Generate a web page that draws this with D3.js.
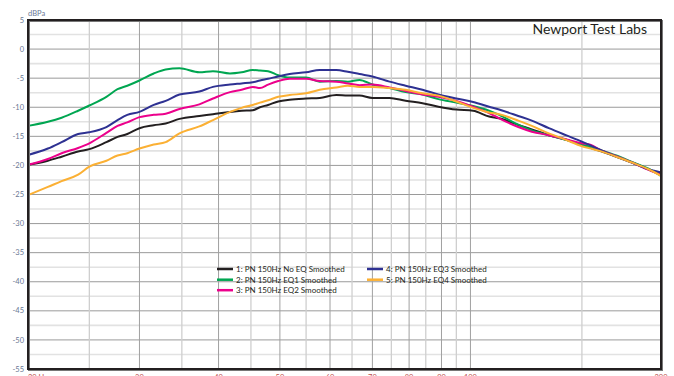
<!DOCTYPE html>
<html>
<head>
<meta charset="utf-8">
<script src="https://cdn.jsdelivr.net/npm/d3@7"></script>
<style>
	body{margin:0;background:#fff;}
	svg text{font-family:Lato, "Noto Sans", sans-serif;}
</style>
</head>
<body>
<svg id="chart" width="674" height="376"></svg>
<script>
width = 674;
height = 376;
margin = {left: 28, top: 20, right: 13, bottom: 7};

// frequencies (Hz) the curves were read at
freqs = [20, 21.5, 22.6, 24, 25, 26.6, 27.7, 28.7, 30, 31.6, 33, 34.7, 37.3, 39.2, 41.7, 43.5, 45.3, 46.5, 47.9, 49.7,
	51.8, 55, 57.8, 61.4, 64, 66.8, 70, 74.5, 79, 84, 89, 95, 101, 107, 111, 119, 125, 133, 141.5, 150,
	155, 160, 170, 180, 191.5, 200];

noEQ = [-19.9, -19.2, -18.5, -17.6, -17.2, -16.0, -15.1, -14.6, -13.6, -13.1, -12.8, -12.0, -11.5, -11.2, -10.8, -10.6, -10.5, -10.0, -9.6, -9.0,
	-8.7, -8.5, -8.4, -7.9, -8.0, -8.0, -8.4, -8.4, -8.9, -9.3, -9.9, -10.4, -10.6, -11.6, -11.9, -13.05, -13.8, -14.8, -15.6, -16.5,
	-17.0, -17.5, -18.5, -19.5, -20.7, -21.6];
eq1 = [-13.2, -12.5, -11.8, -10.6, -9.7, -8.2, -6.9, -6.3, -5.4, -4.2, -3.5, -3.3, -4.0, -3.8, -4.2, -4.0, -3.6, -3.7, -3.8, -4.5,
	-4.9, -4.9, -5.6, -5.5, -5.6, -5.3, -6.1, -6.7, -7.4, -7.8, -8.6, -9.2, -9.8, -10.6, -11.3, -13.0, -14.0, -14.8, -15.6, -16.4,
	-16.8, -17.3, -18.3, -19.4, -20.6, -21.8];
eq2 = [-19.9, -18.9, -17.9, -17.0, -16.2, -14.4, -13.2, -12.6, -11.7, -11.3, -11.1, -10.3, -9.5, -8.5, -7.4, -7.0, -6.5, -6.7, -6.1, -5.5,
	-5.1, -5.1, -5.5, -5.6, -5.9, -6.2, -6.1, -6.6, -7.2, -7.8, -8.2, -8.9, -9.9, -11.0, -11.9, -13.4, -14.2, -14.8, -15.5, -16.2,
	-16.5, -17.3, -18.4, -19.5, -20.8, -21.6];
eq3 = [-18.2, -17.1, -16.0, -14.6, -14.3, -13.4, -12.2, -11.3, -10.8, -9.6, -8.9, -7.8, -7.3, -6.5, -6.1, -5.9, -5.7, -5.4, -5.1, -4.7,
	-4.3, -4.0, -3.6, -3.6, -3.9, -4.3, -4.7, -5.6, -6.3, -7.0, -7.8, -8.5, -9.1, -9.9, -10.4, -11.5, -12.3, -13.6, -14.8, -15.9,
	-16.6, -17.3, -18.5, -19.5, -20.7, -21.2];
eq4 = [-25.1, -23.7, -22.7, -21.6, -20.2, -19.2, -18.3, -17.9, -17.1, -16.4, -16.0, -14.5, -13.3, -12.2, -10.8, -10.1, -9.6, -9.2, -8.8, -8.2,
	-7.9, -7.6, -7.0, -6.6, -6.3, -6.5, -6.5, -6.7, -7.0, -7.6, -8.0, -9.0, -10.1, -10.9, -11.2, -12.3, -13.2, -14.5, -15.6, -16.7,
	-17.1, -17.5, -18.5, -19.5, -20.7, -21.8];

seriesNames = ['1: PN 150Hz No EQ Smoothed', '2: PN 150Hz EQ1 Smoothed', '3: PN 150Hz EQ2 Smoothed',
	'4: PN 150Hz EQ3 Smoothed', '5: PN 150Hz EQ4 Smoothed'];
seriesValues = [noEQ, eq1, eq2, eq3, eq4];
seriesColors = ['#231f20', '#00a651', '#ec008c', '#2e3192', '#fbb034'];

yTicks = [5, 0, -5, -10, -15, -20, -25, -30, -35, -40, -45, -50, -55];
xTicks = [20, 30, 40, 50, 60, 70, 80, 90, 100, 200];
xTickLabels = ['20 Hz', '30', '40', '50', '60', '70', '80', '90', '100', '200'];
xMinor = [25, 35, 45, 55, 65, 75, 85, 95, 150];

plotW = width - margin.left - margin.right;
plotH = height - margin.top - margin.bottom;

svg = d3.select('#chart');
x = d3.scaleLog().domain([20, 200]).range([margin.left, margin.left + plotW]);
y = d3.scaleLinear().domain([5, -55]).range([margin.top, margin.top + plotH]);

grid = svg.append('g');
// minor horizontal lines every 2.5 dB
grid.selectAll('.hmin').data(d3.range(2.5, -55, -5)).enter().append('line')
	.attr('x1', x(20)).attr('x2', x(200))
	.attr('y1', d => y(d)).attr('y2', d => y(d))
	.attr('stroke', '#e2e2e2').attr('stroke-width', 1.6);
grid.selectAll('.hmaj').data(yTicks.slice(1, -1)).enter().append('line')
	.attr('x1', x(20)).attr('x2', x(200))
	.attr('y1', d => y(d)).attr('y2', d => y(d))
	.attr('stroke', '#9a9a9a').attr('stroke-width', 1);
grid.selectAll('.vmin').data(xMinor).enter().append('line')
	.attr('x1', d => x(d)).attr('x2', d => x(d))
	.attr('y1', y(5)).attr('y2', y(-55))
	.attr('stroke', '#cfcfcf').attr('stroke-width', 1.3);
grid.selectAll('.vmaj').data(xTicks.slice(1, -1)).enter().append('line')
	.attr('x1', d => x(d)).attr('x2', d => x(d))
	.attr('y1', y(5)).attr('y2', y(-55))
	.attr('stroke', '#a0a0a0').attr('stroke-width', 1);

// curves
line = d3.line()
	.x((d, i) => x(freqs[i]))
	.y(d => y(d))
	.curve(d3.curveMonotoneX);

svg.append('g').selectAll('path').data(seriesValues).enter().append('path')
	.attr('d', d => line(d))
	.attr('fill', 'none')
	.attr('stroke', (d, i) => seriesColors[i])
	.attr('stroke-width', 2);

// frame
svg.append('rect')
	.attr('x', x(20) + 1).attr('y', y(5) + 1)
	.attr('width', plotW).attr('height', plotH)
	.attr('fill', 'none').attr('stroke', '#777').attr('stroke-width', 2);
svg.append('rect')
	.attr('x', x(20)).attr('y', y(5))
	.attr('width', plotW).attr('height', plotH)
	.attr('fill', 'none').attr('stroke', '#231f20').attr('stroke-width', 2);

// axis labels
svg.append('g').selectAll('text').data(yTicks).enter().append('text')
	.attr('x', margin.left - 4)
	.attr('y', d => y(d) + 2.6)
	.attr('text-anchor', 'end')
	.attr('font-size', 7.5)
	.attr('fill', '#6a7894')
	.text(d => d);

svg.append('text')
	.attr('x', margin.left).attr('y', 16)
	.attr('font-size', 7.5)
	.attr('fill', '#6a7894')
	.text('dBPa');

svg.append('g').selectAll('text').data(xTicks).enter().append('text')
	.attr('x', d => x(d))
	.attr('y', 380)
	.attr('text-anchor', (d, i) => i == 0 ? 'start' : 'middle')
	.attr('font-size', 7.5)
	.attr('fill', '#c0504d')
	.text((d, i) => xTickLabels[i]);

svg.append('text')
	.attr('x', 647).attr('y', 33.5)
	.attr('text-anchor', 'end')
	.attr('font-size', 14)
	.attr('fill', '#231f20')
	.text('Newport Test Labs');

// legend
legendPos = [[217, 269], [217, 279.7], [217, 290.2], [367, 269], [367, 279.7]];
legend = svg.append('g').selectAll('g').data(seriesNames).enter().append('g')
	.attr('transform', (d, i) => `translate(${legendPos[i][0]},${legendPos[i][1]})`);
legend.append('line')
	.attr('x1', 0).attr('x2', 16)
	.attr('stroke', (d, i) => seriesColors[i])
	.attr('stroke-width', 2.5);
legend.append('text')
	.attr('x', 19).attr('y', 2.8)
	.attr('font-size', 8)
	.attr('fill', '#231f20')
	.text(d => d);
</script>
</body>
</html>
